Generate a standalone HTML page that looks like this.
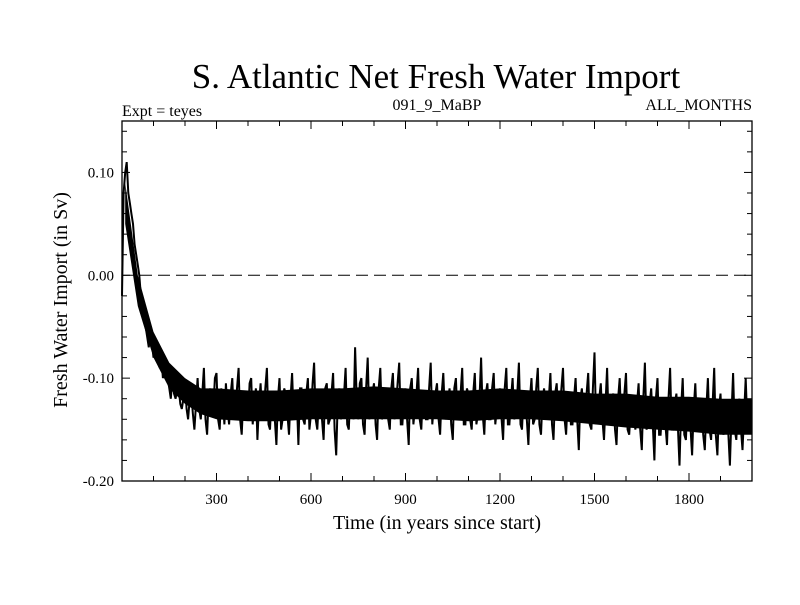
<!DOCTYPE html>
<html><head><meta charset="utf-8"><style>
body{margin:0;background:#fff}
svg text{font-family:"Liberation Serif",serif;fill:#000}
</style></head><body>
<svg id="chart" width="800" height="600" xmlns="http://www.w3.org/2000/svg">
<rect width="800" height="600" fill="#fff"/>
<text x="436" y="88" font-size="35" text-anchor="middle">S. Atlantic Net Fresh Water Import</text>
<text x="122" y="116" font-size="16">Expt = teyes</text>
<text x="437" y="110" font-size="16" text-anchor="middle">091_9_MaBP</text>
<text x="752" y="110" font-size="16" text-anchor="end">ALL_MONTHS</text>
<text transform="translate(67,300) rotate(-90)" font-size="20" text-anchor="middle">Fresh Water Import (in Sv)</text>
<text x="437" y="529" font-size="20" text-anchor="middle">Time (in years since start)</text>
<g id="axes"></g>
<g id="series"></g>
</svg>
<script>
const xTicks=[300,600,900,1200,1500,1800];
const yTicks=[0.10,0.00,-0.10,-0.20];
const yTickLabels=["0.10","0.00","-0.10","-0.20"];
// values at years 0,10,20,...
const importSv=[-0.02,0.10,0.08,0.06,0.03,0.01,-0.02,-0.04,-0.06,-0.05,-0.08,-0.07,-0.09,-0.10,-0.085,-0.11,-0.10,-0.12,-0.11,-0.13,-0.105,-0.14,-0.115,-0.15,
-0.10,-0.14,-0.09,-0.155,-0.11,-0.13,-0.095,-0.15,-0.12,-0.105,
-0.145,-0.10,-0.135,-0.09,-0.155,-0.115,-0.14,-0.10,-0.125,-0.16,
-0.105,-0.135,-0.09,-0.15,-0.12,-0.165,-0.10,-0.14,-0.115,-0.155,
-0.095,-0.13,-0.165,-0.11,-0.145,-0.10,-0.135,-0.085,-0.15,-0.12,
-0.16,-0.105,-0.14,-0.095,-0.175,-0.11,-0.13,-0.09,-0.15,-0.115,
-0.07,-0.14,-0.10,-0.155,-0.08,-0.13,-0.105,-0.16,-0.09,-0.135,
-0.11,-0.15,-0.095,-0.125,-0.085,-0.145,-0.11,-0.165,-0.10,-0.13,
-0.09,-0.15,-0.115,-0.14,-0.085,-0.125,-0.105,-0.155,-0.095,-0.14,
-0.11,-0.16,-0.10,-0.13,-0.09,-0.145,-0.115,-0.15,-0.095,-0.135,
-0.08,-0.155,-0.105,-0.14,-0.095,-0.13,-0.11,-0.16,-0.09,-0.145,
-0.10,-0.135,-0.085,-0.15,-0.115,-0.165,-0.10,-0.14,-0.09,-0.155,
-0.11,-0.14,-0.095,-0.16,-0.105,-0.135,-0.09,-0.155,-0.12,-0.145,
-0.10,-0.17,-0.11,-0.14,-0.095,-0.15,-0.075,-0.135,-0.105,-0.16,
-0.09,-0.145,-0.115,-0.165,-0.10,-0.14,-0.095,-0.155,-0.12,-0.15,
-0.105,-0.17,-0.085,-0.145,-0.11,-0.18,-0.10,-0.155,-0.125,-0.165,
-0.09,-0.15,-0.115,-0.185,-0.10,-0.16,-0.12,-0.175,-0.105,-0.15,
-0.125,-0.17,-0.10,-0.16,-0.09,-0.175,-0.115,-0.155,-0.13,-0.185,
-0.095,-0.16,-0.12,-0.17,-0.10];
// values at years 5,15,25,...
const importSvMid=[0.08,0.11,0.07,0.05,0.02,0.00,-0.03,-0.05,-0.07,-0.065,-0.075,-0.085,-0.08,-0.095,-0.10,-0.12,-0.115,-0.11,-0.125,-0.12,-0.13,-0.12,-0.135,-0.125,
-0.13,-0.115,-0.14,-0.12,-0.135,-0.10,-0.14,-0.11,-0.145,-0.13,
-0.115,-0.14,-0.11,-0.14,-0.12,-0.135,-0.105,-0.145,-0.11,-0.125,
-0.14,-0.11,-0.145,-0.115,-0.14,-0.12,-0.15,-0.11,-0.135,-0.12,
-0.14,-0.12,-0.11,-0.14,-0.115,-0.15,-0.105,-0.14,-0.12,-0.14,
-0.11,-0.145,-0.115,-0.15,-0.12,-0.14,-0.115,-0.145,-0.11,-0.14,
-0.12,-0.105,-0.145,-0.11,-0.14,-0.115,-0.145,-0.11,-0.14,-0.12,
-0.14,-0.11,-0.14,-0.105,-0.145,-0.12,-0.14,-0.11,-0.145,-0.115,
-0.14,-0.115,-0.14,-0.11,-0.145,-0.115,-0.14,-0.115,-0.135,-0.12,
-0.145,-0.11,-0.14,-0.115,-0.145,-0.11,-0.14,-0.115,-0.145,-0.12,
-0.135,-0.115,-0.14,-0.11,-0.145,-0.12,-0.14,-0.11,-0.145,-0.12,
-0.14,-0.115,-0.145,-0.115,-0.14,-0.12,-0.145,-0.11,-0.145,-0.12,
-0.135,-0.12,-0.145,-0.115,-0.14,-0.11,-0.14,-0.12,-0.145,-0.12,
-0.14,-0.12,-0.14,-0.115,-0.145,-0.11,-0.145,-0.12,-0.14,-0.125,
-0.145,-0.12,-0.15,-0.12,-0.145,-0.115,-0.15,-0.13,-0.14,-0.125,
-0.15,-0.12,-0.15,-0.125,-0.145,-0.12,-0.155,-0.13,-0.145,-0.12,
-0.15,-0.125,-0.15,-0.13,-0.155,-0.125,-0.15,-0.13,-0.145,-0.125,
-0.155,-0.13,-0.15,-0.125,-0.155,-0.13,-0.15,-0.125,-0.155,-0.135,
-0.15,-0.13,-0.15,-0.135,-0.145];
// dense core band of the noisy record (upper/lower), every 50 years from year 10
const bandYears=[10,50,100,150,200,250,300,400,500,600,700,800,900,1000,1100,1200,1300,1400,1500,1600,1700,1800,1900,2000];
const bandUpper=[0.09,0.00,-0.055,-0.085,-0.10,-0.11,-0.11,-0.112,-0.112,-0.11,-0.11,-0.108,-0.11,-0.112,-0.112,-0.11,-0.112,-0.112,-0.115,-0.115,-0.118,-0.118,-0.12,-0.12];
const bandLower=[0.05,-0.03,-0.08,-0.11,-0.125,-0.135,-0.14,-0.142,-0.142,-0.14,-0.14,-0.14,-0.14,-0.14,-0.142,-0.14,-0.14,-0.142,-0.145,-0.148,-0.15,-0.152,-0.155,-0.155];

const years=[],values=[];
for(let i=0;i<importSv.length;i++){
  years.push(i*10);values.push(importSv[i]);
  if(i<importSvMid.length){years.push(i*10+5);values.push(importSvMid[i]);}
}

const L=122,R=752,T=121,B=481,XMIN=0,XMAX=2000,YMIN=-0.20,YMAX=0.15;
const sx=v=>L+(v-XMIN)/(XMAX-XMIN)*(R-L);
const sy=v=>B-(v-YMIN)/(YMAX-YMIN)*(B-T);
const NS="http://www.w3.org/2000/svg";
const axes=document.getElementById('axes');
function mk(tag,attrs,parent){const e=document.createElementNS(NS,tag);for(const k in attrs)e.setAttribute(k,attrs[k]);parent.appendChild(e);return e;}

const frame=mk('rect',{x:L,y:T,width:R-L,height:B-T,fill:'none',stroke:'#000','stroke-width':1.3},axes);



const zero=mk('line',{x1:L,x2:R,y1:sy(0),y2:sy(0),stroke:'#000','stroke-width':1,'stroke-dasharray':'12,6'},axes);



for(let v=100;v<XMAX;v+=100){
  const major=v%300===0;const len=major?8:5;
  const t1=mk('line',{x1:sx(v),x2:sx(v),y1:B,y2:B-len,stroke:'#000'},axes);
  
  
  const t2=mk('line',{x1:sx(v),x2:sx(v),y1:T,y2:T+len,stroke:'#000'},axes);
  
  
}
xTicks.forEach(v=>{
  const t=mk('text',{x:sx(v),y:B+23,'font-size':15,'text-anchor':'middle'},axes);
  t.textContent=v;
  
  
});
for(let k=-10;k<=7;k++){
  const v=k*0.02;const major=Math.abs((k%5))===0;const len=major?8:5;
  const t1=mk('line',{x1:L,x2:L+len,y1:sy(v),y2:sy(v),stroke:'#000'},axes);
  
  
  const t2=mk('line',{x1:R,x2:R-len,y1:sy(v),y2:sy(v),stroke:'#000'},axes);
  
  
}
yTicks.forEach((v,i)=>{
  const t=mk('text',{x:L-8,y:sy(v)+5,'font-size':15,'text-anchor':'end'},axes);
  t.textContent=yTickLabels[i];
  
  
});
const series=document.getElementById('series');
let bd='';
bandYears.forEach((y,i)=>{bd+=(i?'L':'M')+sx(y).toFixed(1)+','+sy(bandUpper[i]).toFixed(1);});
for(let i=bandYears.length-1;i>=0;i--){bd+='L'+sx(bandYears[i]).toFixed(1)+','+sy(bandLower[i]).toFixed(1);}
bd+='Z';
const band=mk('path',{d:bd,fill:'#000',stroke:'none'},series);


let d='';
values.forEach((v,i)=>{d+=(i?'L':'M')+sx(years[i]).toFixed(1)+','+sy(v).toFixed(1);});
const line=mk('path',{d:d,fill:'none',stroke:'#000','stroke-width':2,'stroke-linejoin':'miter'},series);


</script>
</body></html>
